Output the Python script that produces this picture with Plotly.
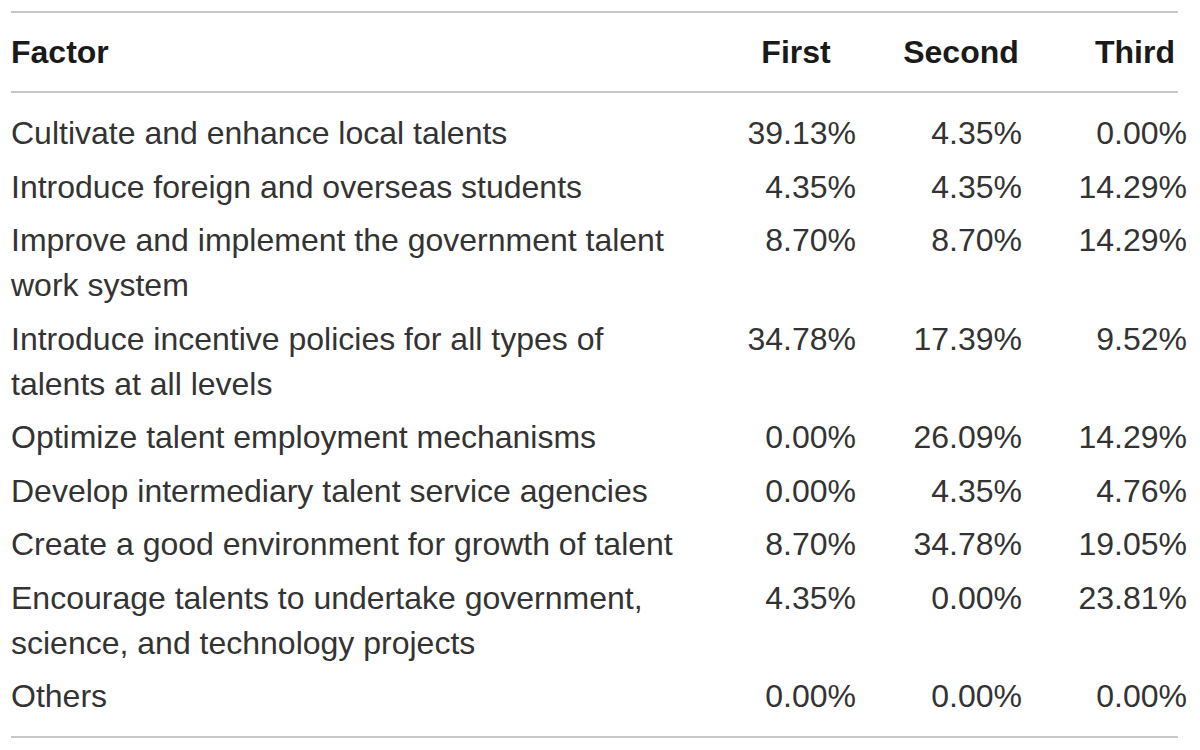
import plotly.graph_objects as go

# ---- data ----
header = ["Factor", "First", "Second", "Third"]
factors = [
    "Cultivate and enhance local talents",
    "Introduce foreign and overseas students",
    "Improve and implement the government talent<br>work system",
    "Introduce incentive policies for all types of<br>talents at all levels",
    "Optimize talent employment mechanisms",
    "Develop intermediary talent service agencies",
    "Create a good environment for growth of talent",
    "Encourage talents to undertake government,<br>science, and technology projects",
    "Others",
]
first = [39.13, 4.35, 8.70, 34.78, 0.00, 0.00, 8.70, 4.35, 0.00]
second = [4.35, 4.35, 8.70, 17.39, 26.09, 4.35, 34.78, 0.00, 0.00]
third = [0.00, 14.29, 14.29, 9.52, 14.29, 4.76, 19.05, 23.81, 0.00]

# ---- layout constants (pixel-like axes) ----
W, H = 1200, 750
FONT = "Liberation Sans, Arial, Helvetica, sans-serif"
TXT = "#333333"
HEAD_TXT = "#1a1a1a"
SIZE = 32
ROW0 = 136      # first body line
ROW_GAP = 53.5  # gap between rows
LINE_GAP = 45   # gap between wrapped lines
HEADER_Y = 55
X_FACTOR = 11
X_NUM = [856, 1022, 1187]
X_HEAD = [796, 961, 1135]
RULE_X = (11, 1178)
RULES_Y = [12, 92, 737]

# row positions from the wrapped labels
line_x, line_y, line_t = [], [], []
row_y = []
cur = ROW0
for lab in factors:
    parts = lab.split("<br>")
    row_y.append(cur)
    for k, p in enumerate(parts):
        line_x.append(X_FACTOR)
        line_y.append(cur + k * LINE_GAP)
        line_t.append(p)
    cur += (len(parts) - 1) * LINE_GAP + ROW_GAP

fig = go.Figure()

# factor column
fig.add_trace(go.Scatter(
    x=line_x, y=line_y, text=line_t, mode="text",
    textposition="middle right",
    textfont=dict(family=FONT, size=SIZE, color=TXT),
    hoverinfo="skip", showlegend=False,
))

# numeric columns
for xc, vals in zip(X_NUM, [first, second, third]):
    fig.add_trace(go.Scatter(
        x=[xc] * len(vals), y=row_y, text=[f"{v:.2f}%" for v in vals],
        mode="text", textposition="middle left",
        textfont=dict(family=FONT, size=SIZE, color=TXT),
        hoverinfo="skip", showlegend=False,
    ))

# header
fig.add_trace(go.Scatter(
    x=[X_FACTOR], y=[HEADER_Y], text=["<b>" + header[0] + "</b>"], mode="text",
    textposition="middle right",
    textfont=dict(family=FONT, size=SIZE, color=HEAD_TXT),
    hoverinfo="skip", showlegend=False,
))
fig.add_trace(go.Scatter(
    x=X_HEAD, y=[HEADER_Y] * 3, text=["<b>" + h + "</b>" for h in header[1:]],
    mode="text", textposition="middle center",
    textfont=dict(family=FONT, size=SIZE, color=HEAD_TXT),
    hoverinfo="skip", showlegend=False,
))

for yy in RULES_Y:
    fig.add_shape(type="line", xref="x", yref="y",
                  x0=RULE_X[0], x1=RULE_X[1], y0=yy, y1=yy,
                  line=dict(color="#c8c8c8", width=2))

fig.update_layout(
    width=W, height=H,
    margin=dict(l=0, r=0, t=0, b=0),
    paper_bgcolor="white", plot_bgcolor="white",
    xaxis=dict(range=[0, W], visible=False, fixedrange=True),
    yaxis=dict(range=[H, 0], visible=False, fixedrange=True),
)

fig.write_html("out.html", post_script="document.body.style.margin='0';",
               config={"displayModeBar": False})
